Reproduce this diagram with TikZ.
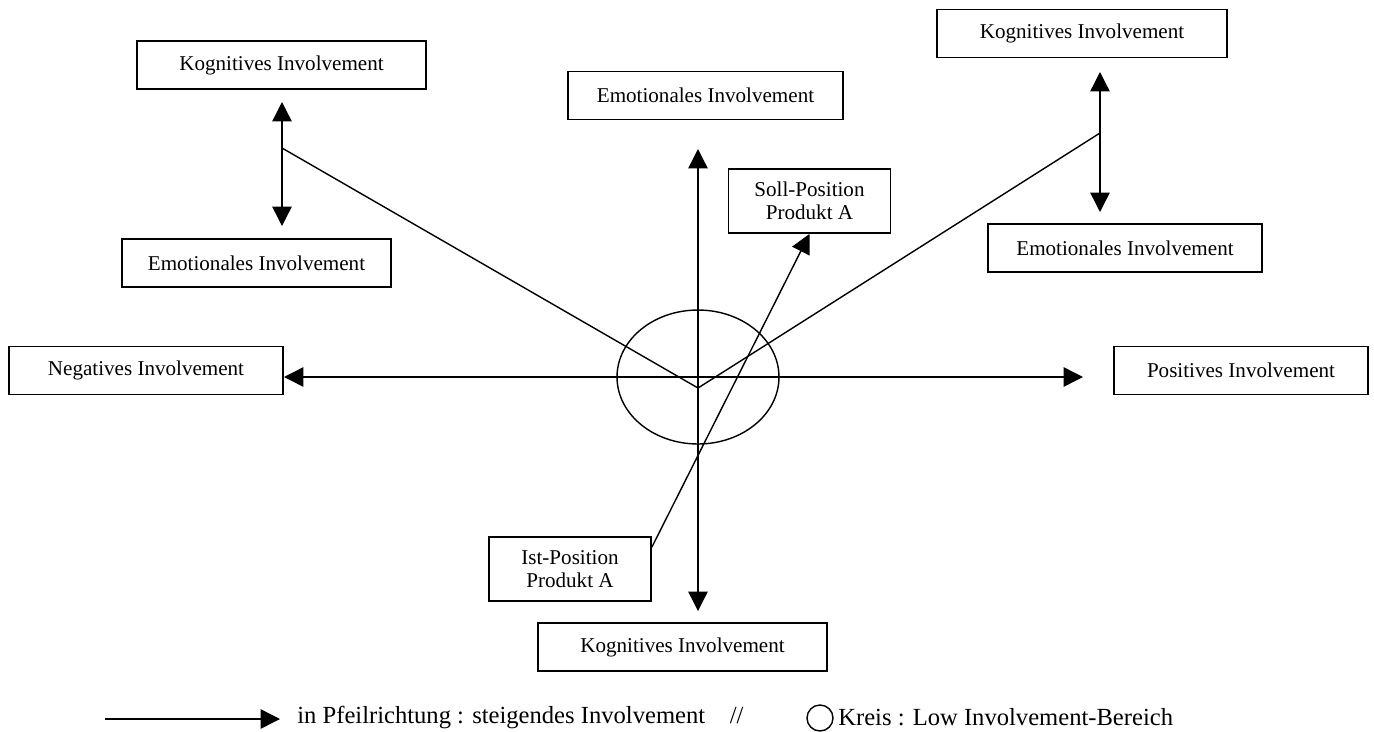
\documentclass[tikz,border=0pt]{standalone}
\usepackage{fontspec}
\setmainfont{Liberation Serif}
\usetikzlibrary{arrows.meta,shapes.geometric}

\begin{document}
\begin{tikzpicture}[
    x=0.02cm, y=-0.02cm,
    box/.style={
      rectangle, draw=black, line width=1pt,
      minimum height=0.96cm, inner sep=2pt,
      align=center, font=\fontsize{12}{13}\selectfont
    },
    posbox/.style={box, minimum width=3.24cm, minimum height=1.28cm},
    arrow/.style={-{Triangle[length=11pt,width=11pt]}, line width=0.8pt},
    dblarrow/.style={{Triangle[length=11pt,width=11pt]}-{Triangle[length=11pt,width=11pt]}, line width=0.8pt},
    legend/.style={anchor=west, inner sep=0pt, font=\fontsize{14}{16}\selectfont}
  ]
  \useasboundingbox (0,0) rectangle (1374,731);
  % Nodes -- top row
  \node[box, minimum width=5.78cm] (kogL) at (281.5,65) {Kognitives Involvement};
  \node[box, minimum width=5.5cm] (emoC) at (705.5,95.5) {Emotionales Involvement};
  \node[box, minimum width=5.8cm] (kogR) at (1082,33.5) {Kognitives Involvement};
  \node[posbox] (soll) at (809.5,201) {Soll-Position\\ Produkt A};
  % middle row
  \node[box, minimum width=5.38cm] (emoL) at (256.5,263) {Emotionales Involvement};
  \node[box, minimum width=5.48cm] (emoR) at (1125,248) {Emotionales Involvement};
  \node[box, minimum width=5.48cm] (neg) at (146,370.5) {Negatives Involvement};
  \node[box, minimum width=5.08cm] (pos) at (1241,370.5) {Positives Involvement};
  % bottom row
  \node[posbox] (ist) at (570,569) {Ist-Position\\ Produkt A};
  \node[box, minimum width=5.78cm] (kogB) at (682.5,647) {Kognitives Involvement};
  % low involvement area
  \node[ellipse, draw, line width=0.8pt, minimum width=3.24cm, minimum height=2.68cm] (kreis) at (698,377) {};
  % axis origin, V vertex and arrow tips
  \coordinate (o) at (698,377);
  \coordinate (v) at (698,388);
  \coordinate (tipN) at (698,149);
  \coordinate (tipS) at (698,611);
  \coordinate (tipW) at (284,377);
  \coordinate (tipE) at (1083,377);
  \coordinate (jl) at (282,148);
  \coordinate (kl1) at (282,102);
  \coordinate (kl2) at (282,226);
  \coordinate (jr) at (1100,133);
  \coordinate (kr1) at (1100,72);
  \coordinate (kr2) at (1100,212);
  % Arrows
  \draw[arrow] (o) -- (tipN);
  \draw[arrow] (o) -- (tipS);
  \draw[arrow] (o) -- (tipW);
  \draw[arrow] (o) -- (tipE);
  \draw[dblarrow] (kl1) -- (kl2);
  \draw[dblarrow] (kr1) -- (kr2);
  \draw[line width=0.8pt] (jl) -- (v) -- (jr);
  \draw[arrow] ([yshift=-0.22cm]ist.north east) -- (soll.south);
  % legend
  \coordinate (lg1) at (105,719);
  \coordinate (lg2) at (280,719);
  \draw[arrow] (lg1) -- (lg2);
  \node[legend] (lgpfeil) at (297,717) {in Pfeilrichtung : steigendes Involvement\hspace{1em}//};
  \node[circle, draw, line width=0.8pt, minimum size=0.52cm, inner sep=0pt] (lgkreis) at (820,718) {};
  \node[legend] (lgkreistxt) at (838,717) {Kreis : Low Involvement-Bereich};
\end{tikzpicture}
\end{document}
